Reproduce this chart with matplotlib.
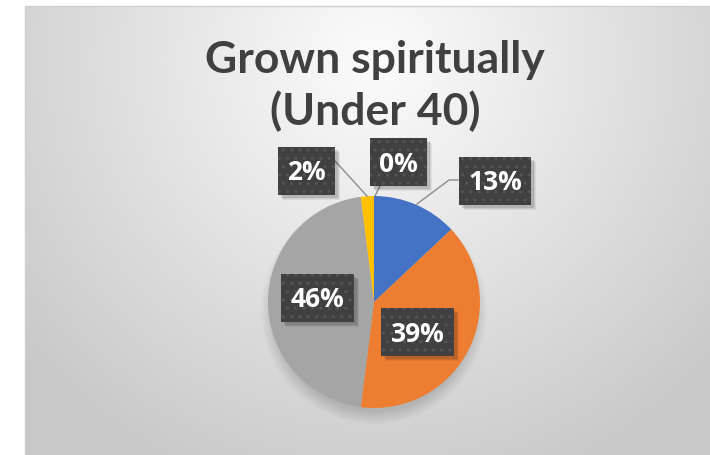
import numpy as np
import matplotlib
matplotlib.use("Agg")
import matplotlib.pyplot as plt
from matplotlib.patches import Rectangle

# ---- data ----
title_lines = ["Grown spiritually", "(Under 40)"]
categories = ["A", "B", "C", "D", "E"]
values = [13, 39, 46, 2, 0]          # percent, clockwise from 12 o'clock
colors = ["#4472C4", "#ED7D31", "#A5A5A5", "#FFC000", "#5B9BD5"]

W, H = 710, 456
fig = plt.figure(figsize=(W / 100, H / 100), dpi=100)
fig.patch.set_facecolor("white")

ax = fig.add_axes([0, 0, 1, 1])
ax.set_xlim(0, W)
ax.set_ylim(0, H)
ax.axis("off")

def Y(y):
    return H - y

# ---- chart area background (radial gradient) ----
x0, ytop = 25, 7
xx, yy = np.meshgrid(np.linspace(x0, W, 400), np.linspace(ytop, H, 300))
d = np.sqrt(((xx - 375) / 430) ** 2 + ((yy - 60) / 430) ** 2)
g = np.clip(252 - 48 * d, 200, 252) / 255.0
img = np.dstack([g, g, g])
ax.imshow(img, extent=[x0, W, Y(H), Y(ytop)], origin="upper", aspect="auto", zorder=0)
ax.add_patch(Rectangle((x0, Y(H) - 2), W - x0 + 2, H - ytop + 2, fill=False,
                       edgecolor="#d0d0d0", lw=1, zorder=1))

# ---- pie shadow (soft, mostly below) ----
cx, cy, r = 374, 303, 106
sxx, syy = np.meshgrid(np.linspace(cx - 140, cx + 140, 280), np.linspace(cy - 140, cy + 150, 290))
dist = np.sqrt((sxx - cx) ** 2 + (syy - (cy + 9)) ** 2)
alpha = 0.16 * np.clip((r + 8 - dist) / 14, 0, 1)
sh = np.zeros(sxx.shape + (4,))
sh[..., 3] = alpha
ax.imshow(sh, extent=[cx - 140, cx + 140, Y(cy + 150), Y(cy - 140)], origin="upper",
          aspect="auto", zorder=1.5)

# ---- pie ----
wedges, _ = ax.pie(values, colors=colors, startangle=90, counterclock=False,
                   center=(cx, Y(cy)), radius=r, frame=True,
                   wedgeprops=dict(linewidth=0))
for w in wedges:
    w.set_zorder(2)
ax.set_xlim(0, W)
ax.set_ylim(0, H)
ax.set_aspect("auto")
ax.axis("off")

# ---- title ----
for line, base in zip(title_lines, [73, 125]):
    ax.text(375, Y(base), line, ha="center", va="baseline", fontsize=32, fontweight="bold",
            family=["Lato", "DejaVu Sans"], color="#404040", zorder=5)

# ---- leader lines ----
leader_col = "#8c8c8c"
ax.plot([458, 449, 417], [Y(181), Y(181), Y(205)], color=leader_col, lw=1, zorder=3)
ax.plot([335, 367], [Y(162), Y(197)], color=leader_col, lw=1, zorder=3)
ax.plot([380, 375], [Y(187), Y(197)], color=leader_col, lw=1, zorder=3)

# ---- data labels ----
label_pos = [(495, 182), (417.5, 333), (317.5, 298.5), (306.5, 172), (398.5, 163)]
texts = []
for v, (lx, ly) in zip(values, label_pos):
    t = ax.text(lx, Y(ly) - 1, f"{v}%", ha="center", va="center", fontsize=19,
                fontweight="bold", family=["Open Sans", "DejaVu Sans"], color="white", zorder=8)
    texts.append(t)

fig.canvas.draw()
renderer = fig.canvas.get_renderer()
bh = 48
for t, (lx, ly) in zip(texts, label_pos):
    bb = t.get_window_extent(renderer)
    bw = bb.width + 19
    # soft shadow
    for k, a in [(5, 0.06), (4, 0.08), (3, 0.10)]:
        ax.add_patch(Rectangle((lx - bw / 2 + k, Y(ly) - bh / 2 - k), bw, bh,
                               facecolor=(0, 0, 0, a), linewidth=0, zorder=6))
    ax.add_patch(Rectangle((lx - bw / 2, Y(ly) - bh / 2), bw, bh, facecolor="#404040",
                           edgecolor="#545454", linewidth=0, hatch="..", zorder=7))

fig.savefig("out.png", dpi=100)
